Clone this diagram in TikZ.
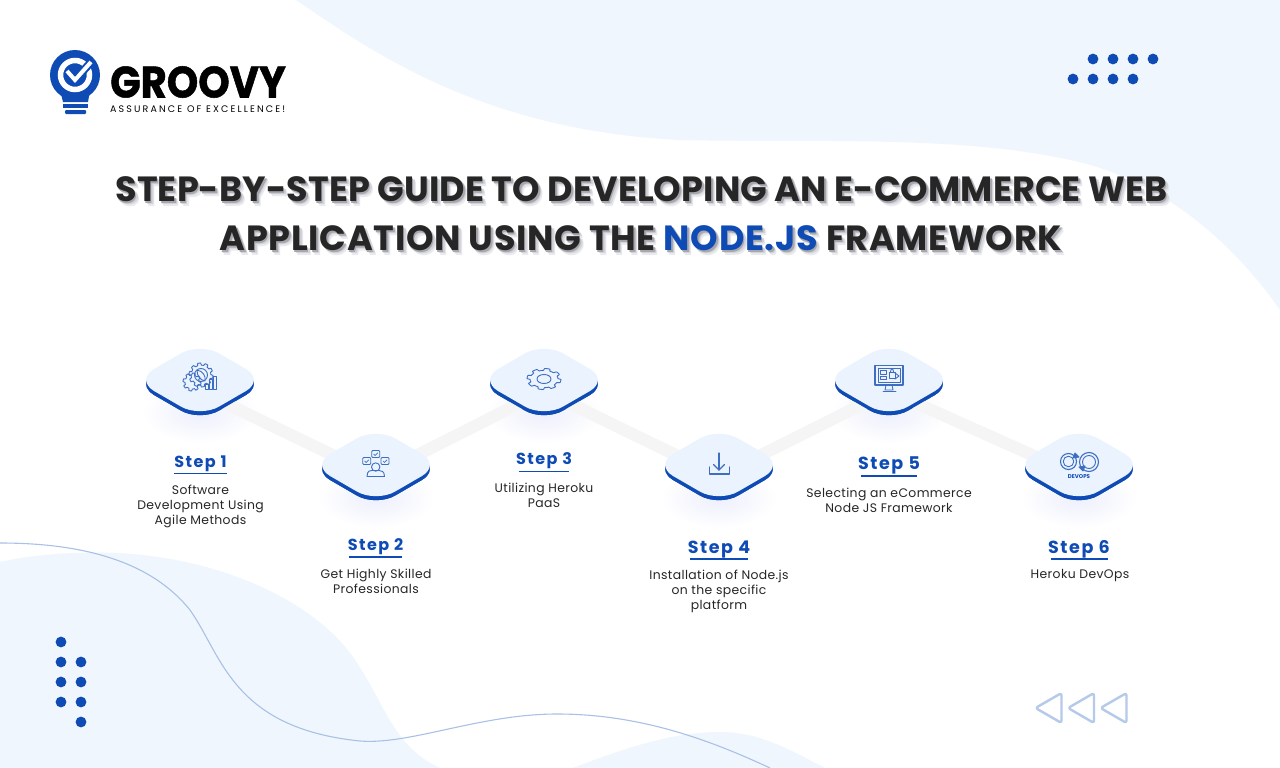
\documentclass[tikz,border=0pt]{standalone}
\usepackage{fontspec}
\setmainfont{Poppins}
\newfontfamily\titlef[LetterSpace=0.4]{Poppins}
\newfontfamily\titlefb[LetterSpace=2]{Poppins}
\newfontfamily\stepf[LetterSpace=9]{Poppins}
\newfontfamily\bodyf[LetterSpace=3]{Poppins}
\newfontfamily\tagf[LetterSpace=22.5]{Poppins}
\newfontfamily\logof[BoldFeatures={FakeBold=1.2}]{Poppins}
\usetikzlibrary{shapes.geometric}
\definecolor{brand}{HTML}{0F4BB4}
\definecolor{bgblue}{HTML}{F0F6FE}
\definecolor{faceblue}{HTML}{EBF3FE}
\definecolor{inkdark}{HTML}{262626}
\definecolor{linkgrey}{HTML}{F5F5F5}
\definecolor{curveblue}{HTML}{A9C1E6}
\definecolor{triblue}{HTML}{B5C9E8}
\definecolor{iconblue}{HTML}{3E6EC2}
\definecolor{glow}{HTML}{EDEFFC}
\definecolor{shA}{HTML}{E8EAEE}
\definecolor{shB}{HTML}{D2D4D9}
\definecolor{shC}{HTML}{A6A8AD}
\tikzset{
  x=1pt,y=-1pt,
  face/.style={shape=diamond,draw=none,fill=faceblue,minimum width=130pt,minimum height=75.4pt,inner sep=0pt,rounded corners=22pt},
  under/.style={face,fill=brand},
  link/.style={draw=linkgrey,line width=12pt},
  icon/.style={draw=iconblue,line width=0.9pt,line join=round,line cap=round},
  dot/.style={fill=brand},
  steptitle/.style={font=\stepf\bfseries\fontsize{16}{18}\selectfont,text=brand,inner sep=0pt,anchor=center},
  stepbig/.style={font=\stepf\bfseries\fontsize{17.5}{20}\selectfont,text=brand,inner sep=0pt,anchor=center},
  steprule/.style={draw=brand,line width=1.8pt},
  desc/.style={font=\bodyf\fontsize{12.4}{15}\selectfont,text=inkdark,align=center,inner sep=0pt,anchor=north},
  titleline/.style={font=\titlef\bfseries\fontsize{35}{38}\selectfont,inner sep=0pt,anchor=center},
  titlelineb/.style={font=\titlefb\bfseries\fontsize{35}{38}\selectfont,inner sep=0pt,anchor=center},
}
\newcommand\gearicon[6]{% cx cy rx ry inner-factor teeth
  \draw[icon] plot[samples=240,domain=0:360] ({#1+(#3)*(#5+(1-#5)*max(0,min(1,0.5+1.6*sin(#6*\x))))*cos(\x)},{#2+(#4)*(#5+(1-#5)*max(0,min(1,0.5+1.6*sin(#6*\x))))*sin(\x)}) -- cycle;}
\newcommand\hlplain[1]{#1}
\newcommand\hlbrand[1]{\textcolor{brand}{#1}}
\newcommand\shlayer[4]{\rlap{\smash{\hspace{#1pt}\raisebox{-#2pt}{\textcolor{#3}{\let\hl\hlplain #4}}}}}
\newcommand\shadowed[1]{\shlayer{4}{5}{shA}{#1}\shlayer{3}{3.5}{shB}{#1}\shlayer{1.5}{2}{shC}{#1}\textcolor{inkdark}{\let\hl\hlbrand #1}}
\begin{document}
\begin{tikzpicture}
\useasboundingbox (0,0) rectangle (1280,768);
\fill[white] (0,0) rectangle (1280,768);
% background shapes
\fill[bgblue] (296,0) .. controls (370,50) and (480,130) .. (680,140)
  .. controls (800,143) and (950,135) .. (1060,158)
  .. controls (1160,175) and (1235,245) .. (1280,310) -- (1280,0) -- cycle;
\fill[bgblue] (0,562) .. controls (40,553) and (80,552) .. (117,553)
  .. controls (220,558) and (310,600) .. (350,653)
  .. controls (385,700) and (390,745) .. (440,768) -- (0,768) -- cycle;
\fill[bgblue] (573,768) .. controls (620,750) and (670,732) .. (720,732)
  .. controls (760,732) and (790,750) .. (825,768) -- cycle;
\draw[curveblue,line width=1.1pt] (0,543) .. controls (80,543) and (150,560) .. (190,610)
  .. controls (222,655) and (232,728) .. (360,741)
  .. controls (410,745) and (480,714) .. (557,714)
  .. controls (640,714) and (710,740) .. (770,768);
% dots
\foreach \x in {1093,1113,1133,1153} \fill[dot] (\x,59) circle (5.4pt);
\foreach \x in {1073,1093,1113,1133} \fill[dot] (\x,79) circle (5.4pt);
\foreach \y in {642,662,682,702} \fill[dot] (61,\y) circle (5.4pt);
\foreach \y in {662,682,702,722} \fill[dot] (81,\y) circle (5.4pt);
% triangles
\foreach \s in {0,32.5,65}
  \draw[triblue,line width=2.4pt,line join=round,rounded corners=2.5pt] (1035.5+\s,708) -- (1061.5+\s,693) -- (1061.5+\s,723) -- cycle;
% logo
\fill[brand] (75,75) circle (25pt);
\fill[brand] (60,90) -- (90,90) -- (88,102) -- (63,102) -- cycle;
\fill[brand] (63,104) rectangle (88,107.5);
\fill[brand,rounded corners=1pt] (65,110) rectangle (86,114);
\draw[white,line width=5.5pt] (75,75) circle (14.5pt);
\draw[brand,line width=8pt] (67,71) -- (75,80) -- (92,61);
\draw[white,line width=4pt] (67,71) -- (75,80) -- (91,62);
\node[font=\logof\bfseries\fontsize{44}{44}\selectfont,text=black,inner sep=0pt,anchor=west] (brandname) at (110,82) {\scalebox{0.91}[1]{GROOVY}};
\node[font=\tagf\fontsize{9.5}{10}\selectfont,text=black,inner sep=0pt,anchor=west] (brandtag) at (110,109) {ASSURANCE OF EXCELLENCE!};
% title
\node[titleline] (title1) at (641.5,189) {\shadowed{STEP-BY-STEP GUIDE TO DEVELOPING AN E-COMMERCE WEB}};
\node[titlelineb] (title2) at (641,238) {\shadowed{APPLICATION USING THE \hl{NODE.JS} FRAMEWORK}};
% glows
\foreach \cx/\cy in {200/380,376/465,544/380,719/465,889/380,1079/465}
  \shade[inner color=glow,outer color=white] (\cx,\cy+33) ellipse (58pt and 30pt);
% steps: undersides
\node[under] (u1) at (200,384) {};
\node[under] (u2) at (376,469) {};
\node[under] (u3) at (544,384) {};
\node[under] (u4) at (719,469) {};
\node[under] (u5) at (889,384) {};
\node[under] (u6) at (1079,469) {};
% connectors
\draw[link] ([yshift=-7pt]u1.center) -- ([yshift=-7pt]u2.center);
\draw[link] ([yshift=-7pt]u2.center) -- ([yshift=-7pt]u3.center);
\draw[link] ([yshift=-7pt]u3.center) -- ([yshift=-7pt]u4.center);
\draw[link] ([yshift=-7pt]u4.center) -- ([yshift=-7pt]u5.center);
\draw[link] ([yshift=-7pt]u5.center) -- ([yshift=-7pt]u6.center);
\node[under] at (u1) {};
\node[under] at (u2) {};
\node[under] at (u3) {};
\node[under] at (u4) {};
\node[under] at (u5) {};
\node[under] at (u6) {};
\node[face] (n1) at (200,380) {};
\node[face] (n2) at (376,465) {};
\node[face] (n3) at (544,380) {};
\node[face] (n4) at (719,465) {};
\node[face] (n5) at (889,380) {};
\node[face] (n6) at (1079,465) {};
% icon 1
\gearicon{201}{375}{12}{12}{0.82}{10}
\gearicon{192}{382}{9}{9}{0.78}{8}
\draw[icon] (201,375) ellipse (6.5pt and 6.5pt);
\draw[icon] (197,370) .. controls (203,371) and (206,376) .. (205,381) .. controls (200,380) and (197,376) .. (197,370);
\draw[icon] (205,389) rectangle (208,384);
\draw[icon] (209,389) rectangle (212,379);
\draw[icon] (213,389) rectangle (216,376);
% icon 2
\foreach \bx/\by in {375.7/454,366.7/461,385/461}{
  \draw[icon,rounded corners=1pt] (\bx-4,\by-3.5) rectangle (\bx+4,\by+3.5);
  \draw[icon,line width=0.7pt] (\bx-2,\by) -- (\bx-.5,\by+1.5) -- (\bx+2,\by-1.2);}
\draw[icon,fill=faceblue] (375.7,467) circle (4.2pt);
\draw[icon] (367,476.5) .. controls (367,470) and (371,470.5) .. (372,470.5) -- (379,470.5) .. controls (381,470.5) and (384.5,471) .. (384.5,476.5) -- cycle;
% icon 3
\gearicon{544}{379}{17}{10.5}{0.82}{8}
\draw[icon] (544,379) ellipse (7pt and 4.5pt);
% icon 4
\draw[icon,line width=1.1pt] (719,453) -- (719,470);
\draw[icon,line width=1.1pt] (713.5,464.5) -- (719,470) -- (724.5,464.5);
\draw[icon,line width=1.1pt] (709.5,467) -- (709.5,474) -- (729.5,474) -- (729.5,467);
% icon 5
\draw[icon,line width=1.1pt] (875,365.5) rectangle (903,385);
\draw[icon] (878,368.5) rectangle (900,382);
\draw[icon] (886,385) -- (885,390) -- (893,390) -- (892,385);
\draw[icon] (883,391) -- (896,391);
\draw[icon] (880,370.5) rectangle (886,374);
\draw[icon] (880,376) rectangle (886,379.5);
\draw[icon] (889,378) rectangle (895,372);
\draw[icon] (890.5,372) .. controls (890.5,368) and (893.5,368) .. (893.5,372);
\draw[icon] (895,373) -- (899,376) -- (895,379);
% icon 6
\draw[icon,line width=1.1pt] (1068.5,461.5) circle (8pt);
\draw[icon] (1068.5,461.5) circle (5.3pt);
\draw[icon,line width=1.1pt] (1089,462) circle (9.5pt);
\draw[icon] (1089,462) circle (6.5pt);
\draw[icon,fill=iconblue] (1075,453) -- (1079,457) -- (1073,458) -- cycle;
\draw[icon,fill=iconblue] (1083,471) -- (1079,467) -- (1085,466) -- cycle;
\node[font=\bfseries\fontsize{5.5}{6}\selectfont,text=brand,inner sep=0pt] (devops) at (1079,477) {DEVOPS};
% step labels
\node[steptitle] (t1) at (200.5,464) {Step 1};
\draw[steprule] (174,473.5) -- (227,473.5);
\node[desc] (d1) at (200.5,485) {Software\\Development Using\\Agile Methods};
\node[steptitle] (t2) at (375.5,547) {Step 2};
\draw[steprule] (349,557) -- (402,557);
\node[desc] (d2) at (376,568.5) {Get Highly Skilled\\Professionals};
\node[steptitle] (t3) at (544,461) {Step 3};
\draw[steprule] (518.5,471.5) -- (569,471.5);
\node[desc] (d3) at (544,482.5) {Utilizing Heroku\\PaaS};
\node[stepbig] (t4) at (719,549.5) {Step 4};
\draw[steprule] (690,559) -- (748,559);
\node[desc] (d4) at (719,569.5) {Installation of Node.js\\on the specific\\platform};
\node[stepbig] (t5) at (889,465) {Step 5};
\draw[steprule] (861,476) -- (917,476);
\node[desc] (d5) at (889,487.5) {Selecting an eCommerce\\Node JS Framework};
\node[stepbig] (t6) at (1079,549.5) {Step 6};
\draw[steprule] (1051,559) -- (1108,559);
\node[desc] (d6) at (1080,569.5) {Heroku DevOps};
\end{tikzpicture}
\end{document}
